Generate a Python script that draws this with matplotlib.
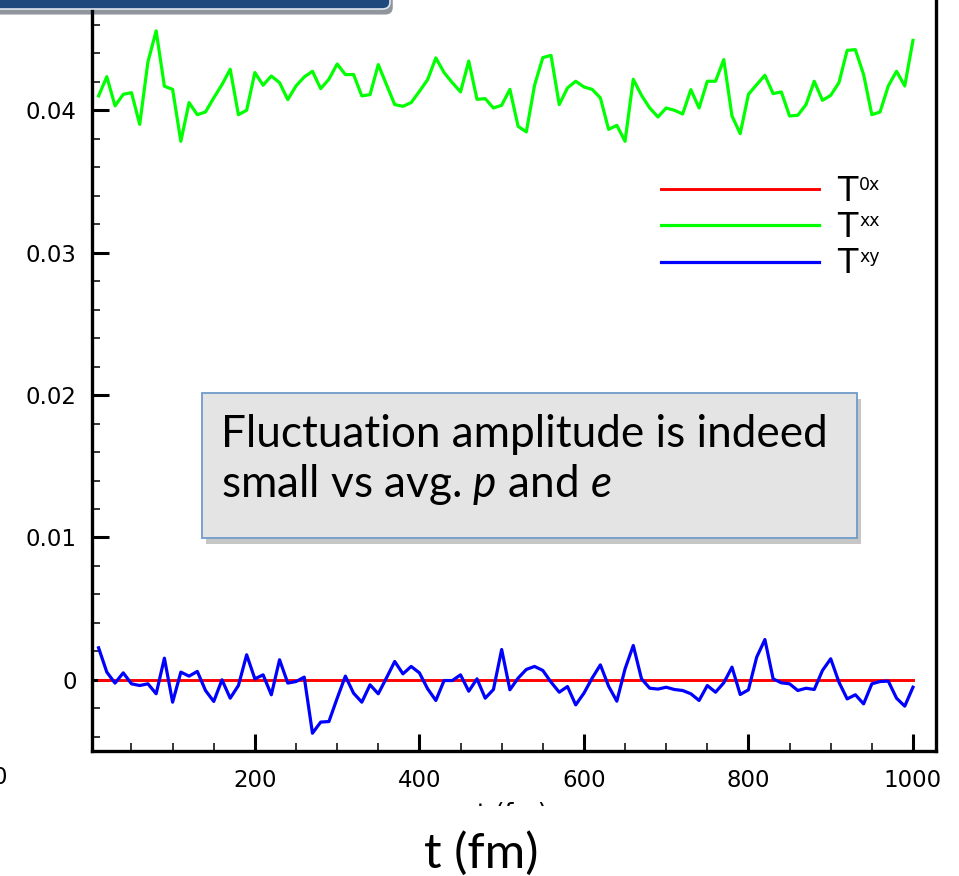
import matplotlib
matplotlib.use('Agg')
import numpy as np
import matplotlib.pyplot as plt
import matplotlib.patches as mpatches
import matplotlib.patheffects as pe
from matplotlib.ticker import MultipleLocator, FuncFormatter

plt.rcParams['font.family'] = 'DejaVu Sans'
plt.rcParams['mathtext.fontset'] = 'custom'
plt.rcParams['mathtext.rm'] = 'Lato'
plt.rcParams['mathtext.it'] = 'Lato:italic'

# time samples (fm), one every 10 fm
t = np.arange(10, 1001, 10)

# T^0x stays at zero
t0x = [0.0] * len(t)

# T^xx
txx = [0.04102, 0.04237, 0.04032, 0.04113, 0.04125, 0.03902, 0.04341, 0.04559, 0.04170, 0.04148,
       0.03783, 0.04055, 0.03970, 0.03989, 0.04088, 0.04181, 0.04289, 0.03970, 0.04001, 0.04266,
       0.04177, 0.04242, 0.04195, 0.04076, 0.04172, 0.04235, 0.04275, 0.04153, 0.04219, 0.04326,
       0.04252, 0.04252, 0.04102, 0.04111, 0.04322, 0.04181, 0.04041, 0.04029, 0.04055, 0.04134,
       0.04216, 0.04369, 0.04266, 0.04195, 0.04130, 0.04347, 0.04078, 0.04083, 0.04017, 0.04036,
       0.04148, 0.03888, 0.03849, 0.04177, 0.04371, 0.04387, 0.04041, 0.04158, 0.04205, 0.04165,
       0.04148, 0.04088, 0.03867, 0.03895, 0.03783, 0.04219, 0.04106, 0.04017, 0.03954, 0.04017,
       0.04001, 0.03975, 0.04146, 0.04017, 0.04205, 0.04205, 0.04357, 0.03961, 0.03837, 0.04113,
       0.04181, 0.04247, 0.04118, 0.04130, 0.03961, 0.03966, 0.04041, 0.04205, 0.04071, 0.04106,
       0.04195, 0.04422, 0.04427, 0.04252, 0.03970, 0.03989, 0.04172, 0.04275, 0.04172, 0.04492]

# T^xy
txy = [0.00225, 0.00054, -0.00023, 0.00049, -0.00028, -0.00040, -0.00028, -0.00098, 0.00152, -0.00157,
       0.00054, 0.00026, 0.00059, -0.00075, -0.00152, 0.00000, -0.00129, -0.00040, 0.00176, 0.00007,
       0.00035, -0.00105, 0.00141, -0.00023, -0.00012, 0.00019, -0.00375, -0.00297, -0.00293, -0.00130,
       0.00026, -0.00094, -0.00157, -0.00035, -0.00098, 0.00014, 0.00129, 0.00042, 0.00094, 0.00049,
       -0.00063, -0.00145, -0.00005, -0.00005, 0.00035, -0.00080, 0.00007, -0.00129, -0.00068, 0.00213,
       -0.00070, 0.00012, 0.00073, 0.00094, 0.00066, -0.00016, -0.00087, -0.00047, -0.00176, -0.00094,
       0.00012, 0.00105, -0.00045, -0.00150, 0.00077, 0.00241, 0.00007, -0.00059, -0.00065, -0.00052,
       -0.00068, -0.00075, -0.00098, -0.00145, -0.00040, -0.00087, -0.00021, 0.00089, -0.00103, -0.00070,
       0.00159, 0.00283, 0.00007, -0.00021, -0.00028, -0.00075, -0.00059, -0.00068, 0.00066, 0.00148,
       -0.00016, -0.00134, -0.00105, -0.00169, -0.00028, -0.00012, -0.00009, -0.00129, -0.00185, -0.00052]

labels = ['T', 'T', 'T']
superscripts = ['0x', 'xx', 'xy']

W, H = 959, 876
fig = plt.figure(figsize=(W / 100, H / 100), dpi=100)

# axes run off the top of the slide crop
ax = fig.add_axes([92 / W, 1 - 751 / H, 844 / W, 781.5 / H])

l1, = ax.plot(t, t0x, color='#ff0000', lw=2.1)
l2, = ax.plot(t, txx, color='#00ff00', lw=2.3)
l3, = ax.plot(t, txy, color='#0000ff', lw=2.3)

ax.set_xlim(2, 1028)
ax.set_ylim(-0.005, 0.0499)

ax.xaxis.set_major_locator(MultipleLocator(200))
ax.xaxis.set_minor_locator(MultipleLocator(50))
ax.yaxis.set_major_locator(MultipleLocator(0.01))
ax.yaxis.set_minor_locator(MultipleLocator(0.002))
ax.yaxis.set_major_formatter(FuncFormatter(lambda v, p: '0' if abs(v) < 1e-9 else '%.2f' % v))
ax.xaxis.set_major_formatter(FuncFormatter(lambda v, p: '%d' % v))

for s in ax.spines.values():
    s.set_linewidth(2.4)
ax.tick_params(which='both', direction='in', top=False, right=False, labelsize=16.5)
ax.tick_params(which='major', length=12, width=2.2)
ax.tick_params(axis='y', which='major', pad=11)
ax.tick_params(axis='x', which='major', pad=13)
ax.tick_params(which='minor', length=6, width=1.1)

leg = ax.legend([l1, l2, l3], labels, loc='center left', bbox_to_anchor=(0.674, 0.670),
                frameon=False, fontsize=24, handlelength=4.73, handletextpad=0.55,
                borderpad=0, borderaxespad=0, labelspacing=0.1)

# superscripts next to each legend "T"
fig.canvas.draw()
inv = fig.transFigure.inverted()
for txt, sup in zip(leg.get_texts(), superscripts):
    bb = txt.get_window_extent()
    x0, y0 = inv.transform((bb.x1 + 2, bb.y1 - 1))
    fig.text(x0, y0, sup, ha='left', va='top', fontsize=12.5)

# hidden original x label, mostly covered by the slide
fig.text(512 / W, 1 - 801 / H, 't (fm)', ha='center', va='top', fontsize=18)
fig.patches.append(mpatches.Rectangle((0, 0), 1, 1 - 806 / H, transform=fig.transFigure,
                                      facecolor='white', edgecolor='none', zorder=5))
fig.text(0 / W, 1 - 777 / H, '0', ha='center', va='center', fontsize=16.5, zorder=4)

# slide label under the plot
fig.text(481 / W, 1 - 868 / H, 't (fm)', ha='center', va='baseline', fontsize=35.5,
         family='Lato', zorder=6)

# callout box
shadow = [pe.SimplePatchShadow(offset=(3, -4), alpha=0.3), pe.Normal()]
box = mpatches.Rectangle((202 / W, 1 - 538 / H), 655 / W, 145 / H, transform=fig.transFigure,
                         facecolor='#e4e4e4', edgecolor='#6f9bc9', lw=1.3, zorder=6,
                         path_effects=shadow)
fig.patches.append(box)
fig.text(221 / W, 1 - 447 / H, 'Fluctuation amplitude is indeed', ha='left', va='baseline',
         fontsize=31.8, family='Lato', zorder=7)
fig.text(221 / W, 1 - 497 / H, 'small vs avg. $p$ and $e$', ha='left', va='baseline',
         fontsize=31.8, family='Lato', zorder=7)

# title bar of the slide, cut by the crop
bar = mpatches.FancyBboxPatch((-20 / W, 1 - 9 / H), 410 / W, 40 / H,
                              boxstyle='round,pad=0,rounding_size=0.008',
                              transform=fig.transFigure, facecolor='#1f497d',
                              edgecolor='#dfe6ee', lw=1.2, zorder=8,
                              path_effects=[pe.SimplePatchShadow(offset=(2, -4), alpha=0.45),
                                            pe.Normal()])
fig.patches.append(bar)

fig.savefig('out.png', dpi=100)
